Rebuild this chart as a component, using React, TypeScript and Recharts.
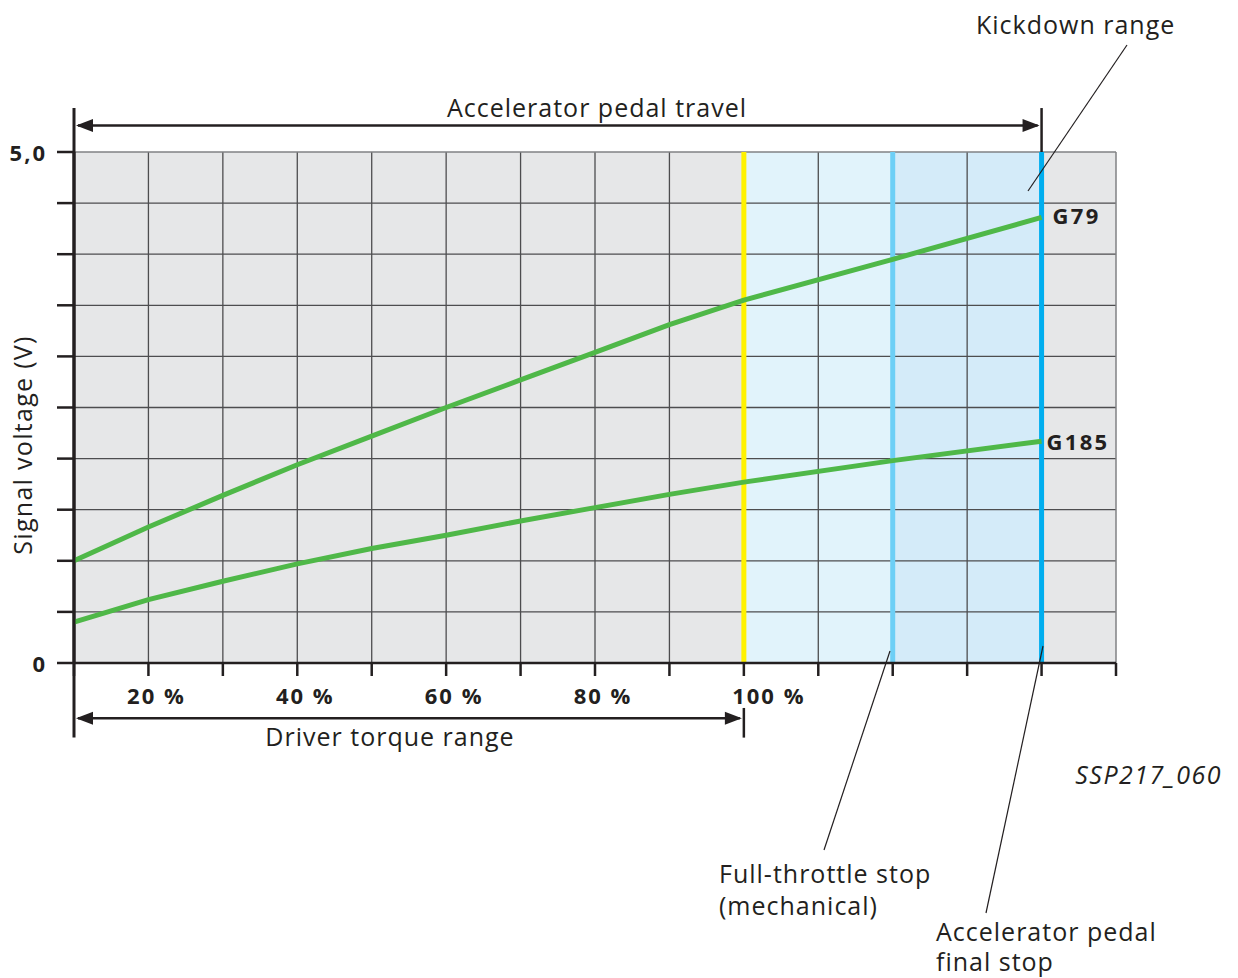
import React from 'react';
import { ComposedChart, Line, XAxis, YAxis, ReferenceArea, ReferenceLine } from 'recharts';

// Accelerator pedal travel positions (%, scale units)
const travel = [10, 20, 30, 40, 50, 60, 70, 80, 90, 100, 120, 140];
// Signal voltages (V)
const g79 = [1.0, 1.33, 1.64, 1.94, 2.22, 2.5, 2.77, 3.04, 3.31, 3.55, 3.95, 4.36];
const g185 = [0.4, 0.62, 0.8, 0.97, 1.12, 1.25, 1.39, 1.52, 1.65, 1.77, 1.98, 2.17];

const xTicks = [10, 20, 30, 40, 50, 60, 70, 80, 90, 100, 110, 120, 130, 140, 150];
const xTickLabels: Record<number, string> = { 20: '20 %', 40: '40 %', 60: '60 %', 80: '80 %', 100: '100 %' };
const yTicks = [0, 0.5, 1, 1.5, 2, 2.5, 3, 3.5, 4, 4.5, 5];
const yTickLabels: Record<number, string> = { 0: '0', 5: '5,0' };
const gridX = [20, 30, 40, 50, 60, 70, 80, 90, 100, 110, 120, 130, 140];
const gridY = [0.5, 1, 1.5, 2, 2.5, 3, 3.5, 4, 4.5];

const zones = [
  { x1: 10, x2: 100, fill: '#e6e7e8' },
  { x1: 100, x2: 120, fill: '#e1f3fb' },
  { x1: 120, x2: 140, fill: '#d4ebf9' },
  { x1: 140, x2: 150, fill: '#e6e7e8' },
];
const stops = [
  { x: 100, color: '#fff200' },
  { x: 120, color: '#6dcff6' },
  { x: 140, color: '#00aeef' },
];

const data = travel.map((t, i) => ({ t, g79: g79[i], g185: g185[i] }));

const FONT = "'Open Sans', 'Noto Sans', sans-serif";
const INK = '#231f20';
const GREEN = '#4fb848';

const XTick = (props: any) => {
  const { x, y, payload } = props;
  const label = xTickLabels[payload.value];
  if (!label) return null;
  const dx = payload.value === 100 ? 25 : 8;
  return (
    <text x={x + dx} y={y + 26} textAnchor="middle" fontFamily={FONT} fontWeight={700} fontSize={22} letterSpacing={2} fill={INK}>
      {label}
    </text>
  );
};

const YTick = (props: any) => {
  const { x, y, payload } = props;
  const label = yTickLabels[payload.value];
  if (!label) return null;
  return (
    <text x={x - 8} y={y} textAnchor="end" dominantBaseline="central" fontFamily={FONT} fontWeight={700} fontSize={22} letterSpacing={2} fill={INK}>
      {label}
    </text>
  );
};

const DoubleArrow = (props: any) => {
  const { x1, y1, x2, y2 } = props;
  const a = 17;
  const h = 6.5;
  return (
    <g>
      <line x1={x1 + 4} y1={y1} x2={x2 - 4} y2={y2} stroke={INK} strokeWidth={2.5} />
      <polygon points={`${x1 + 2},${y1} ${x1 + 2 + a},${y1 - h} ${x1 + 2 + a},${y1 + h}`} fill={INK} />
      <polygon points={`${x2 - 2},${y2} ${x2 - 2 - a},${y2 - h} ${x2 - 2 - a},${y2 + h}`} fill={INK} />
    </g>
  );
};

const endLabel = (name: string, dx: number, dy: number) => (props: any) => {
  const { x, y, index } = props;
  if (index !== travel.length - 1) return null;
  return (
    <text x={x + dx} y={y + dy} dominantBaseline="central" fontFamily={FONT} fontWeight={700} fontSize={22} letterSpacing={2.3} fill={INK}>
      {name}
    </text>
  );
};

export default function App() {
  return (
    <div style={{ position: 'absolute', left: 0, top: 0, width: 1238, height: 978, background: '#fff' }}>
      <ComposedChart
        width={1238}
        height={978}
        data={data}
        margin={{ top: 152, right: 122, bottom: 285, left: 0 }}
      >
        <XAxis
          dataKey="t"
          type="number"
          domain={[10, 150]}
          ticks={xTicks}
          interval={0}
          allowDataOverflow
          height={30}
          tickSize={13}
          tick={<XTick />}
          axisLine={{ stroke: INK, strokeWidth: 2.5 }}
          tickLine={{ stroke: INK, strokeWidth: 2.5 }}
        />
        <YAxis
          type="number"
          domain={[0, 5]}
          ticks={yTicks}
          interval={0}
          allowDataOverflow
          width={74}
          tickSize={17}
          tick={<YTick />}
          axisLine={{ stroke: INK, strokeWidth: 3 }}
          tickLine={{ stroke: INK, strokeWidth: 2.5 }}
        />
        {zones.map((z) => (
          <ReferenceArea key={`z${z.x1}`} x1={z.x1} x2={z.x2} y1={0} y2={5} fill={z.fill} fillOpacity={1} stroke="none" ifOverflow="visible" />
        ))}
        {gridX.map((v) => (
          <ReferenceLine key={`gx${v}`} x={v} stroke="#4d4d4f" strokeWidth={1.3} />
        ))}
        {gridY.map((v) => (
          <ReferenceLine key={`gy${v}`} y={v} stroke="#4d4d4f" strokeWidth={1.3} />
        ))}
        <ReferenceLine y={5} stroke="#808285" strokeWidth={1.5} />
        <ReferenceLine x={150} stroke="#808285" strokeWidth={1.5} />
        {stops.map((s) => (
          <ReferenceLine key={`s${s.x}`} x={s.x} stroke={s.color} strokeWidth={5} />
        ))}
        {/* axis extensions and range markers */}
        <ReferenceLine segment={[{ x: 10, y: 5.43 }, { x: 10, y: -0.73 }]} stroke={INK} strokeWidth={3} ifOverflow="visible" />
        <ReferenceLine segment={[{ x: 140, y: 5.43 }, { x: 140, y: 5 }]} stroke={INK} strokeWidth={2.5} ifOverflow="visible" />
        <ReferenceLine segment={[{ x: 100, y: -0.44 }, { x: 100, y: -0.73 }]} stroke={INK} strokeWidth={2.5} ifOverflow="visible" />
        <ReferenceLine segment={[{ x: 10, y: 5.26 }, { x: 140, y: 5.26 }]} ifOverflow="visible" shape={<DoubleArrow />} />
        <ReferenceLine segment={[{ x: 10, y: -0.54 }, { x: 100, y: -0.54 }]} ifOverflow="visible" shape={<DoubleArrow />} />
        <Line dataKey="g79" type="linear" stroke={GREEN} strokeWidth={5} dot={false} isAnimationActive={false} label={endLabel('G79', 11, -2)} />
        <Line dataKey="g185" type="linear" stroke={GREEN} strokeWidth={5} dot={false} isAnimationActive={false} label={endLabel('G185', 5, 0)} />
        {/* annotations */}
        <g fontFamily={FONT} fill={INK} fontSize={25} letterSpacing={1}>
          <text x={597} y={117} textAnchor="middle">Accelerator pedal travel</text>
          <text x={390} y={746} textAnchor="middle">Driver torque range</text>
          <text x={22} y={445} textAnchor="middle" dominantBaseline="central" letterSpacing={1.3} transform="rotate(-90 22 445)">Signal voltage (V)</text>
          <text x={976} y={34}>Kickdown range</text>
          <text x={719} y={883}>Full-throttle stop</text>
          <text x={719} y={915}>(mechanical)</text>
          <text x={936} y={941}>Accelerator pedal</text>
          <text x={936} y={971}>final stop</text>
          <text x={1222} y={784} textAnchor="end" fontStyle="italic" letterSpacing={1.5}>SSP217_060</text>
        </g>
      </ComposedChart>
      <svg width={1238} height={978} style={{ position: 'absolute', left: 0, top: 0, pointerEvents: 'none' }}>
        <g stroke={INK} strokeWidth={1.2}>
          <line x1={1127} y1={45} x2={1028} y2={191} />
          <line x1={890} y1={651} x2={824} y2={850} />
          <line x1={1043} y1={646} x2={986} y2={913} />
        </g>
      </svg>
    </div>
  );
}
